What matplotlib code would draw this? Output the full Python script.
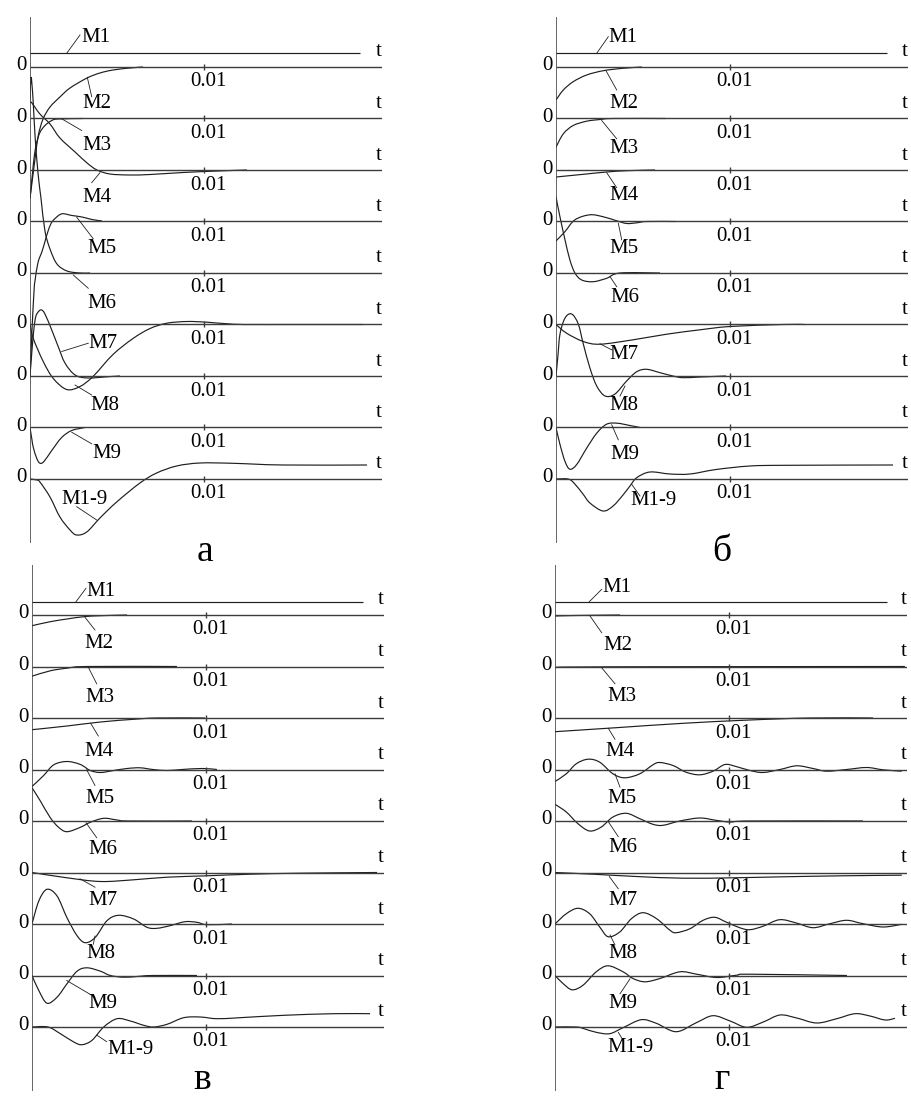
import numpy as np
import matplotlib
matplotlib.use("Agg")
import matplotlib.pyplot as plt
from matplotlib.path import Path
from matplotlib.patches import PathPatch
from matplotlib.transforms import offset_copy

plt.rcParams['font.family'] = ['Liberation Serif', 'DejaVu Serif']

# ---------------- text / categories ----------------
CURVE_NAMES = ["M1", "M2", "M3", "M4", "M5", "M6", "M7", "M8", "M9", "M1-9"]
CURVE_ROW = [0, 0, 1, 2, 3, 4, 5, 6, 7, 8]
PANEL_LABELS = ["а", "б", "в", "г"]
TICK_T = 0.01
TICK_LABEL = "0.01"
ZERO_LABEL = "0"
T_LABEL = "t"

# ---------------- data: time in ms, amplitude in arbitrary units ----------------
# panel а
a_M1_t = [0.0, 18.97]
a_M1_y = [14, 14]
a_M2_t = [0.0, 0.17, 0.34, 0.48, 0.75, 1.15, 1.72, 2.30, 3.28, 4.02, 4.77, 5.75, 6.49]
a_M2_y = [-131, -108, -85, -68, -52, -40, -30, -21, -11, -6, -3, -1, 0]
a_M3_t = [0.0, 0.13, 0.25, 0.39, 0.57, 0.86, 1.25, 1.61, 3.05]
a_M3_y = [-80, -57, -37, -24, -14, -7, -2, -0.5, 0]
a_M4_t = [0.0, 0.11, 0.57, 1.15, 1.72, 2.59, 3.28, 3.85, 4.60, 5.75, 6.90, 8.79, 10.75, 12.47]
a_M4_y = [68, 67, 56, 46, 32, 18, 7, 0, -4, -5, -4.5, -2.5, -1, 0]
a_M5_t = [0.0, 0.11, 0.23, 0.29, 0.46, 0.69, 0.86, 1.03, 1.21, 1.44, 1.84, 2.41, 2.99, 3.56, 4.14]
a_M5_y = [-156, -110, -70, -59, -41, -30, -20, -10, -2, 3, 7.7, 6, 4.5, 2, 0.5]
a_M6_t = [0.0, 0.06, 0.17, 0.29, 0.46, 0.63, 0.86, 1.15, 1.55, 2.13, 2.87, 3.45]
a_M6_y = [173, 196, 175, 137, 100, 75, 42, 24, 9, 2, 0, 0]
a_M7_t = [0.0, 0.19, 0.76, 1.34, 2.11, 2.87, 3.62, 4.77, 5.92, 6.90, 7.87, 9.02, 10.17, 11.67, 12.99, 14.94, 19.14]
a_M7_y = [0, -14, -37, -54, -65, -62, -52, -30, -14, -4, 1.3, 3, 2.3, 0.3, 0, 0, 0]
a_M8_t = [0.0, 0.11, 0.23, 0.34, 0.52, 0.67, 0.86, 1.25, 1.63, 2.01, 2.59, 3.33, 4.48, 5.17]
a_M8_y = [0, 25, 48, 60, 65, 66, 62, 46, 29, 13, 1, -2, -0.7, 0]
a_M9_t = [0.0, 0.11, 0.19, 0.39, 0.57, 0.80, 1.25, 1.82, 2.40, 3.16]
a_M9_y = [0, -12, -20, -31, -35.7, -34, -23, -10, -3, 0]
a_M19_t = [0.0, 0.40, 0.57, 1.15, 1.72, 2.30, 2.68, 3.26, 4.02, 4.98, 6.32, 7.28, 8.43, 9.77, 11.67, 14.54, 19.37]
a_M19_y = [0, -1, -3, -18, -38, -51, -56, -53, -39, -23, -4, 6, 13, 16, 15.7, 14, 14]

# panel б
b_M1_t = [0.0, 19.02]
b_M1_y = [14, 14]
b_M2_t = [0.0, 0.42, 0.99, 1.76, 2.72, 3.85, 4.93]
b_M2_y = [-33, -23, -14.7, -8, -3.7, -1.3, 0]
b_M3_t = [0.0, 0.42, 0.99, 1.76, 2.53, 3.29, 6.32]
b_M3_y = [-28.7, -15.3, -7, -2.7, -1, 0, 0]
b_M4_t = [0.0, 1.57, 2.91, 4.06, 5.69]
b_M4_y = [-7, -4.3, -2, -0.7, 0]
b_M5_t = [0.0, 0.52, 1.09, 1.95, 2.72, 3.49, 4.06, 4.64, 5.21, 6.90]
b_M5_y = [-19.5, -10, 1.7, 6.7, 4.7, 0.7, -2, -1.3, 0, 0]
b_M6_t = [0.0, 0.23, 0.52, 0.80, 1.09, 1.48, 2.14, 2.91, 3.68, 5.98]
b_M6_y = [76, 56, 33, 13, 0, -7, -8.7, -5.3, 0, 0]
b_M7_t = [0.0, 0.61, 1.57, 2.53, 4.43, 6.36, 8.28, 10.0, 13.05, 14.31]
b_M7_y = [0, -8.7, -17, -19.7, -15.3, -9.7, -5.3, -2, 0, 0]
b_M8_t = [0.0, 0.11, 0.23, 0.52, 0.90, 1.28, 1.57, 1.95, 2.34, 2.82, 3.39, 4.06, 4.64, 5.21, 5.98, 6.72, 7.30, 8.28, 9.77]
b_M8_y = [0, 20, 42, 58, 62, 52, 32, 8, -10, -20, -18, -5, 4.3, 6.7, 3.3, 0, -1.7, -1, 0]
b_M9_t = [0.0, 0.23, 0.52, 0.80, 1.19, 1.76, 2.34, 2.91, 3.51, 4.25, 4.83]
b_M9_y = [0, -17, -34, -41.7, -37, -20.7, -5.7, 3.3, 4.3, 2, 0]
b_M19_t = [0.0, 0.69, 1.03, 1.55, 1.95, 2.70, 3.28, 3.85, 4.25, 4.64, 5.40, 6.55, 7.70, 9.20, 11.15, 13.22, 19.37]
b_M19_y = [0, 0, -4, -15, -24, -32, -27, -16, -7, 1.3, 7, 5, 5, 9.5, 13, 13.7, 14]

# panel в
c_M1_t = [0.0, 19.0]
c_M1_y = [13.3, 13.3]
c_M2_t = [0.0, 1.05, 2.01, 2.97, 3.93, 5.46]
c_M2_y = [-10.7, -6.7, -4, -1.7, -0.7, 0]
c_M3_t = [0.0, 1.05, 2.01, 3.16, 8.33]
c_M3_y = [-9.7, -4.3, -1.7, 0, 0]
c_M4_t = [0.0, 2.01, 3.93, 5.84, 7.18, 9.94]
c_M4_y = [-11.7, -8, -4, -1.3, 0, 0]
c_M5_t = [0.0, 0.67, 1.25, 2.01, 2.78, 3.35, 3.93, 4.70, 5.46, 6.21, 6.95, 7.76, 8.62, 9.77, 10.63]
c_M5_y = [-17, -6, 4.7, 8, 5, -1, -3, -1, 1, 1.7, 0, -1, 0, 1, 0]
c_M6_t = [0.0, 0.48, 1.05, 1.53, 2.01, 2.78, 3.35, 4.12, 4.89, 5.56, 9.20]
c_M6_y = [33.3, 20, 3.3, -6.3, -10.7, -6.3, -1.3, 2.7, 1, 0, 0]
c_M7_t = [0.0, 2.01, 3.93, 5.84, 7.76, 10.06, 12.53, 15.40, 19.83]
c_M7_y = [0, -5.3, -9, -7.3, -4.7, -3.3, -1.7, -0.7, 0]
c_M8_t = [0.0, 0.39, 0.86, 1.44, 2.01, 2.59, 3.06, 3.64, 4.31, 4.98, 5.84, 6.61, 7.18, 7.93, 8.79, 9.48, 10.06, 11.49]
c_M8_y = [0, 23, 34.7, 28, 6.3, -11.7, -18.7, -13.3, 3.3, 8.7, 5, -3.3, -4.3, -1.7, 2.3, 1.7, -0.7, 0]
c_M9_t = [0.0, 0.39, 0.86, 1.44, 2.01, 2.59, 3.16, 3.93, 4.50, 5.27, 6.03, 6.90, 9.48]
c_M9_y = [0, -15, -27.7, -21.7, -8.3, 4.3, 7.7, 4.3, 0, -1.7, -1, 0, 0]
c_M19_t = [0.0, 0.92, 1.63, 2.40, 2.87, 3.45, 4.12, 4.89, 5.65, 6.42, 6.99, 7.76, 8.72, 9.66, 10.63, 11.95, 14.47, 17.34, 19.43]
c_M19_y = [0, 0, -6.7, -15, -17.7, -13.3, 0, 8.3, 6, 1.7, 0, 2.7, 9.3, 10, 8.3, 9.3, 11.7, 13.3, 13.3]

# panel г
d_M1_t = [0.0, 19.08]
d_M1_y = [13.3, 13.3]
d_M2_t = [0.0, 1.15, 3.74]
d_M2_y = [-1, -0.5, 0]
d_M3_t = [0.0, 3.45, 20.11]
d_M3_y = [-0.8, -0.3, 0]
d_M4_t = [0.0, 3.52, 7.36, 11.21, 14.66, 18.28]
d_M4_y = [-13.7, -9.7, -5.3, -2, 0, 0]
d_M5_t = [0.0, 0.65, 1.22, 1.90, 2.57, 3.33, 4.01, 4.87, 5.63, 6.02, 6.78, 7.53, 8.32, 9.08, 9.77, 10.40,
          11.21, 11.95, 12.93, 13.89, 14.83, 15.61, 16.76, 17.91, 18.85, 19.93]
d_M5_y = [-12, -4.3, 5.7, 10.3, 7.3, -4.3, -8.3, -4.3, 4.7, 7, 4, -2.7, -5.3, -1.7, 5, 3,
          -1, -3, 0, 3.7, 1, -1.7, 0, 2, -0.3, -1.7]
d_M6_t = [0.0, 0.65, 1.32, 1.99, 2.66, 3.33, 4.10, 4.87, 5.63, 6.21, 7.17, 8.32, 9.25, 10.06, 11.21, 17.70]
d_M6_y = [16.7, 9, -2.7, -10, -6, 4, 7.7, 2.3, -3.3, -4.3, 0, 3, 0.7, -1, 0, 0]
d_M7_t = [0.0, 2.18, 4.67, 7.36, 10.23, 13.10, 16.55, 19.93]
d_M7_y = [0, -1.7, -4, -5.7, -5.3, -4.3, -3.3, -2.7]
d_M8_t = [0.0, 0.65, 1.32, 1.99, 2.57, 3.05, 3.72, 4.39, 5.06, 5.84, 6.61, 6.97, 7.76, 8.51, 9.18, 9.83,
          10.61, 11.19, 11.95, 12.91, 13.87, 14.83, 15.80, 16.76, 17.70, 18.85, 19.93]
d_M8_y = [0, 10.3, 15.7, 10.3, -3, -12.7, -8, 5.3, 11.3, 5.3, -6.3, -8.7, -4.7, 3.7, 6.7, 2,
          -3.7, -5.7, -2.3, 4.3, 1, -3.7, 0.3, 3.7, 0.3, -3, -0.3]
d_M9_t = [0.0, 0.46, 0.99, 1.61, 2.37, 3.05, 3.91, 4.48, 5.17, 6.03, 7.18, 8.14, 9.29, 10.44, 11.21, 16.78]
d_M9_y = [0, -8, -14.3, -9.7, 3.7, 9.7, 3.7, -3, -6.3, -3, 3.7, 1.3, -2, 0.3, 1.3, 0]
d_M19_t = [0.0, 1.25, 1.72, 2.37, 3.14, 3.91, 4.96, 5.82, 6.97, 8.12, 9.08, 10.06, 11.02, 11.97, 12.93,
           13.89, 15.04, 16.19, 17.24, 18.10, 18.97, 19.54]
d_M19_y = [0, 0, -2, -5.3, -6.7, -0.7, 7.3, 3.7, -4.7, 4.3, 11.3, 6, -0.3, 5, 12,
           9, 4, 8.3, 13.3, 11, 7, 8.7]

PANEL_SERIES = [
    [(a_M1_t, a_M1_y), (a_M2_t, a_M2_y), (a_M3_t, a_M3_y), (a_M4_t, a_M4_y), (a_M5_t, a_M5_y),
     (a_M6_t, a_M6_y), (a_M7_t, a_M7_y), (a_M8_t, a_M8_y), (a_M9_t, a_M9_y), (a_M19_t, a_M19_y)],
    [(b_M1_t, b_M1_y), (b_M2_t, b_M2_y), (b_M3_t, b_M3_y), (b_M4_t, b_M4_y), (b_M5_t, b_M5_y),
     (b_M6_t, b_M6_y), (b_M7_t, b_M7_y), (b_M8_t, b_M8_y), (b_M9_t, b_M9_y), (b_M19_t, b_M19_y)],
    [(c_M1_t, c_M1_y), (c_M2_t, c_M2_y), (c_M3_t, c_M3_y), (c_M4_t, c_M4_y), (c_M5_t, c_M5_y),
     (c_M6_t, c_M6_y), (c_M7_t, c_M7_y), (c_M8_t, c_M8_y), (c_M9_t, c_M9_y), (c_M19_t, c_M19_y)],
    [(d_M1_t, d_M1_y), (d_M2_t, d_M2_y), (d_M3_t, d_M3_y), (d_M4_t, d_M4_y), (d_M5_t, d_M5_y),
     (d_M6_t, d_M6_y), (d_M7_t, d_M7_y), (d_M8_t, d_M8_y), (d_M9_t, d_M9_y), (d_M19_t, d_M19_y)],
]

# ---------------- layout (pixels) ----------------
W, H = 912, 1099
AX_W, AX_H = 352, 526
PX_PER_TICK = 174.0
T_MAX = TICK_T * AX_W / PX_PER_TICK
ROW_STEP = 51.5
Y_TOP, Y_BOT = 50, -476
PANEL_BOX = [(30, 17), (556, 17), (32, 565), (555, 565)]
PANEL_LABEL_POS = [(205, 561), (722, 561), (202, 1089), (722, 1089)]

# label placement: text centre (dx, dy), leader start (dx, dy), leader end (dx, dy); px from (axis, row baseline)
LABEL_LAYOUT = [
    [((66, 30), (36.7, 13.7), (50, 32)), ((67, -36), (61.7, -29.7), (57.3, -10.3)),
     ((67, -27), (51.7, -12), (31.7, -0.3)), ((67, -28), (61.7, -12.7), (70, -2.7)),
     ((71.7, -27.3), (63.3, -17.3), (46.7, 4.3)), ((72, -30), (58.3, -15.3), (43.3, -2)),
     ((72.5, -19), (58.3, -18.7), (31.7, -27)), ((75, -29), (61.7, -19), (45, -9)),
     ((76.7, -26), (61.7, -16.3), (41.7, -4.7)), ((55, -21), (46.7, -27.7), (66.7, -41))],
    [((67, 29), (40.7, 13.7), (52.3, 30.3)), ((68, -36), (60.7, -23), (50, -3.7)),
     ((68, -30), (60.7, -20.3), (45.7, -2)), ((68, -26), (60.7, -17.7), (50.7, -2.7)),
     ((68, -27), (65.7, -18.3), (62.3, -1.7)), ((69, -24), (60.7, -13.7), (54, -3.7)),
     ((68, -30), (55.7, -25.3), (44, -19.3)), ((68, -30), (64, -20), (69, -10)),
     ((69, -27), (62.3, -12.3), (55.7, 2.7)), ((98, -22), (84, -17), (75.7, -5.3))],
    [((69, 24), (44, 13.3), (54, 26.7)), ((67, -28), (63, -15), (53, -2.3)),
     ((68, -30.7), (64.7, -17.3), (56.3, -0.7)), ((67, -33), (66.3, -18), (58.7, -5.3)),
     ((68, -29), (63, -16), (54.7, -0.3)), ((71, -28), (64.7, -16.7), (54, -1.7)),
     ((71, -28), (63, -14.7), (48, -6.3)), ((69, -30), (61.3, -20.3), (63, -12)),
     ((71, -28), (63, -21.7), (34.7, -5)), ((99, -23), (74.7, -14.7), (64.7, -8))],
    [((62, 27), (34.3, 13.3), (46.7, 25.7)), ((63, -30), (46.7, -17.7), (35, -1)),
     ((67, -30), (60, -17.3), (46.7, -1.3)), ((65, -33), (60, -21.3), (53.3, -10.3)),
     ((67, -29), (65, -17.7), (60, -4.3)), ((68, -27), (63.3, -15.7), (53.3, -0.7)),
     ((68, -28), (63.3, -16.3), (54.3, -4)), ((68, -29), (60, -21), (55, -11)),
     ((68, -28), (65, -18.3), (75, -3.3)), ((76, -21), (68.3, -13.7), (63.3, -5.3))],
]

LINE_C = "#1e1e1e"
BASE_C = "#3c3c3c"
FS = 15


def smooth_path(x, y):
    P = np.column_stack([x, y]).astype(float)
    n = len(P)
    if n < 3:
        return Path(P)
    verts = [P[0]]
    codes = [Path.MOVETO]
    for i in range(n - 1):
        p0 = P[max(i - 1, 0)]
        p1 = P[i]
        p2 = P[i + 1]
        p3 = P[min(i + 2, n - 1)]
        verts += [p1 + (p2 - p0) / 6.0, p2 - (p3 - p1) / 6.0, p2]
        codes += [Path.CURVE4] * 3
    return Path(verts, codes)


fig = plt.figure(figsize=(W / 100, H / 100), dpi=100)
sx = T_MAX / AX_W

for p, (left, top) in enumerate(PANEL_BOX):
    ax = fig.add_axes([left / W, 1 - (top + AX_H) / H, AX_W / W, AX_H / H])
    ax.set_xlim(0, T_MAX)
    ax.set_ylim(Y_BOT, Y_TOP)
    ax.axis('off')
    ax.axvline(0, color=BASE_C, lw=1.1)

    for r in range(9):
        base = -r * ROW_STEP
        ax.hlines(base, 0, T_MAX, color=BASE_C, lw=1.0)
        ax.vlines(TICK_T, base - 3, base + 3, color=BASE_C, lw=1.0)
        ax.text(0, base, ZERO_LABEL, fontsize=FS, ha='right', va='center',
                transform=offset_copy(ax.transData, fig, x=-3, y=1, units='dots'))
        ax.text(TICK_T, base, TICK_LABEL, fontsize=FS, ha='center', va='center',
                transform=offset_copy(ax.transData, fig, x=4, y=-15, units='dots'))
        ax.text(T_MAX, base, T_LABEL, fontsize=FS, ha='center', va='center',
                transform=offset_copy(ax.transData, fig, x=-3, y=15, units='dots'))

    for k, (t_ms, amp) in enumerate(PANEL_SERIES[p]):
        base = -CURVE_ROW[k] * ROW_STEP
        t = np.asarray(t_ms) / 1000.0
        y = np.asarray(amp, dtype=float) + base
        ax.add_patch(PathPatch(smooth_path(t, y), fill=False, edgecolor=LINE_C, lw=0.85))

        (tx, ty), (l1x, l1y), (l2x, l2y) = LABEL_LAYOUT[p][k]
        ax.plot([l1x * sx, l2x * sx], [base + l1y, base + l2y], color=LINE_C, lw=0.6)
        ax.text(tx * sx, base + ty, CURVE_NAMES[k], fontsize=FS, ha='center', va='center')

    lx, ly = PANEL_LABEL_POS[p]
    fig.text(lx / W, 1 - ly / H, PANEL_LABELS[p], fontsize=27, ha='center', va='baseline')

fig.savefig("out.png", dpi=100, facecolor="white")
